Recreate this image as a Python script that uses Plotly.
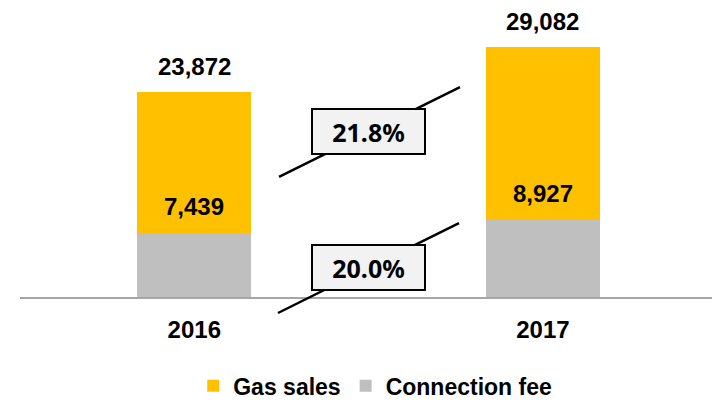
import plotly.graph_objects as go

years = ["2016", "2017"]
connection_fee = [7439, 8927]
gas_sales = [16433, 20155]
totals = [23872, 29082]
growth_total = "21.8%"
growth_fee = "20.0%"

GOLD = "#FFC000"
GRAY = "#BFBFBF"
NUM_FONT = "Liberation Sans, Arial, sans-serif"
PCT_FONT = "Noto Sans, Open Sans, sans-serif"

fig = go.Figure()
fig.add_trace(go.Bar(x=years, y=connection_fee, name="Connection fee",
                     marker=dict(color=GRAY, line=dict(width=0)), width=0.327))
fig.add_trace(go.Bar(x=years, y=gas_sales, name="Gas sales",
                     marker=dict(color=GOLD, line=dict(width=0)), width=0.327))

ann = []
for i, t in enumerate(totals):
    ann.append(dict(x=i, y=t, xref="x", yref="y", text=f"<b>{t:,}</b>",
                    showarrow=False, yanchor="bottom", yshift=10,
                    font=dict(family=NUM_FONT, size=24, color="#000")))
for i, c in enumerate(connection_fee):
    ann.append(dict(x=i, y=c, xref="x", yref="y", text=f"<b>{c:,}</b>",
                    showarrow=False, yanchor="bottom", yshift=11,
                    font=dict(family=NUM_FONT, size=24, color="#000")))

# decorative growth lines
for (x0, y0, x1, y1) in [(0.3743, 0.411, 0.6358, 0.719), (0.3728, -0.0548, 0.6344, 0.2534)]:
    fig.add_shape(type="line", xref="paper", yref="paper", x0=x0, y0=y0, x1=x1, y1=y1,
                  line=dict(color="#000", width=2.5))

for (xc, yc, txt) in [(0.5040, 0.5668, growth_total), (0.5036, 0.1027, growth_fee)]:
    ann.append(dict(x=xc, y=yc, xref="paper", yref="paper", text=f"<b>{txt}</b>",
                    showarrow=False, xanchor="center", yanchor="middle",
                    width=107, height=39, borderpad=2, borderwidth=2,
                    bordercolor="#000", bgcolor="#F2F2F2",
                    font=dict(family=PCT_FONT, size=25, color="#000")))

fig.update_layout(
    width=712, height=404,
    margin=dict(l=20, r=0, t=5, b=107, autoexpand=False),
    paper_bgcolor="white", plot_bgcolor="white",
    barmode="stack",
    annotations=ann,
    showlegend=True,
    hovermode=False,
    legend=dict(orientation="h", traceorder="reversed",
                xref="container", yref="container",
                x=0.527, xanchor="center", y=0.045, yanchor="middle",
                font=dict(family=NUM_FONT, size=23, color="#000", weight="bold"),
                itemclick=False),
    xaxis=dict(type="category", range=[-0.5, 1.485], showline=True, linecolor="#A6A6A6",
               linewidth=2, automargin=False,
               showgrid=False, zeroline=False, ticks="", ticklabelstandoff=10,
               tickfont=dict(family=NUM_FONT, size=24, color="#000", weight="bold")),
    yaxis=dict(range=[0, 33968], visible=False, showgrid=False, zeroline=False,
               automargin=False),
)

fig.write_html("out.html", config={"displayModeBar": False},
               post_script="document.body.style.margin='0px';")
